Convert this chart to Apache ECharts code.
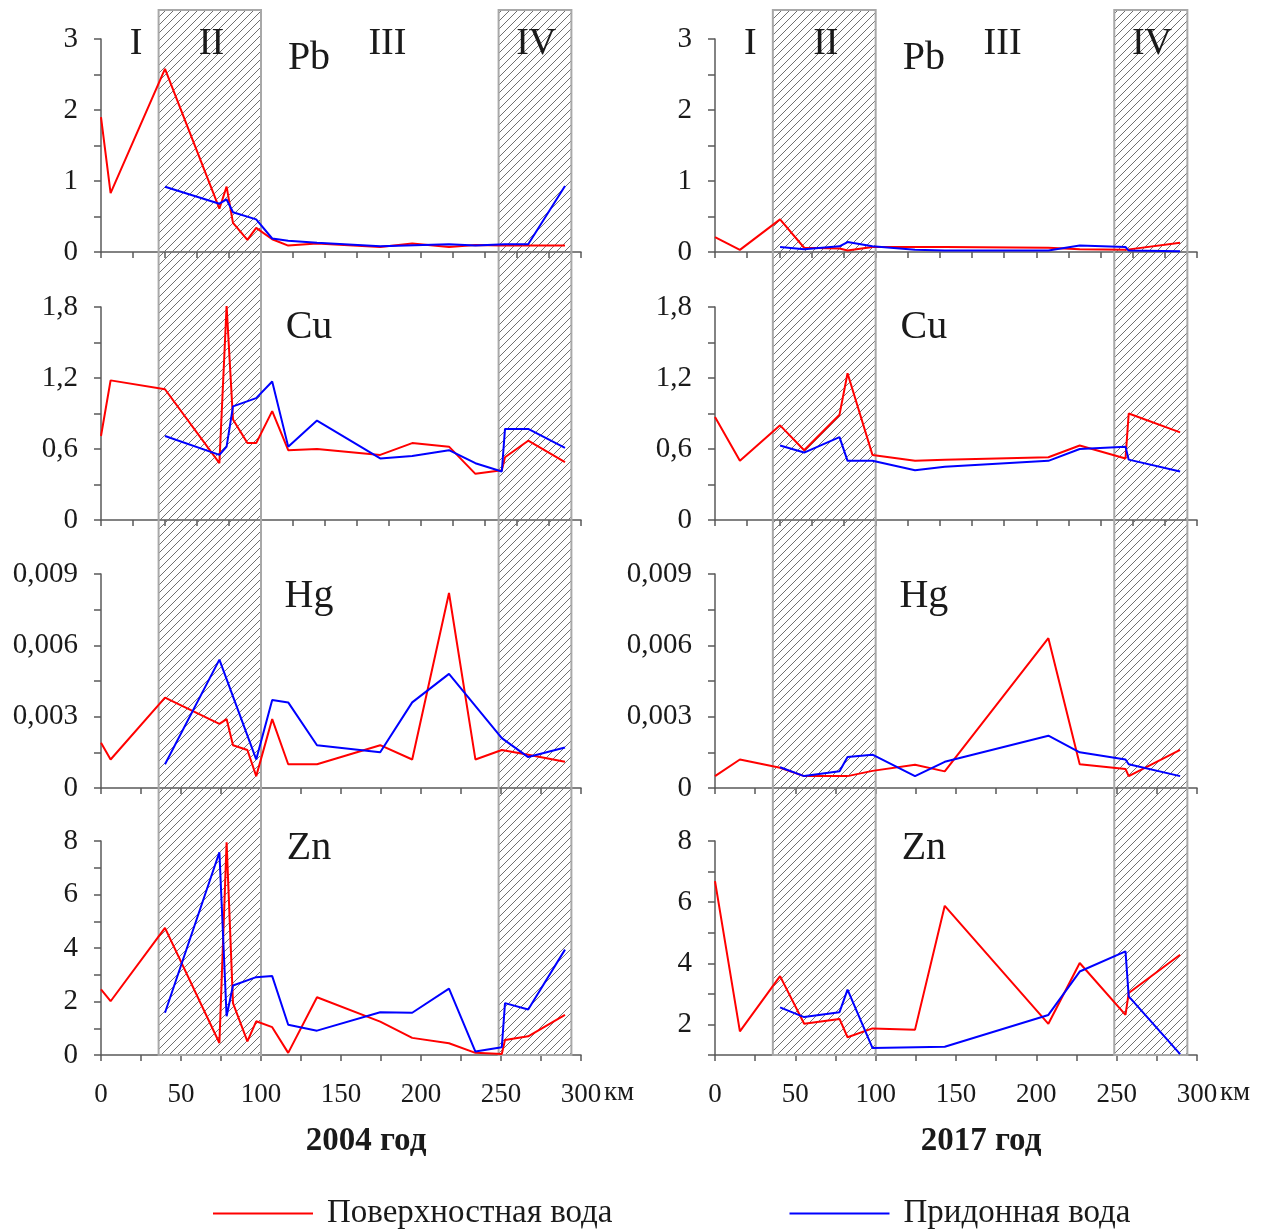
<!DOCTYPE html>
<html>
<head>
<meta charset="utf-8">
<title>Pb, Cu, Hg, Zn — 2004 / 2017</title>
<script src="https://cdn.jsdelivr.net/npm/echarts@6/dist/echarts.min.js"></script>
<style>
  html, body { margin: 0; padding: 0; background: #fff; }
  #chart { width: 1276px; height: 1229px; }
</style>
</head>
<body>
<div id="chart"></div>
<script>
// Sampling stations along the river, km
const stations2004 = [0, 6, 40, 74, 78.5, 82.5, 91.5, 97, 107, 117, 135, 174.5, 194.5, 217.5, 234, 250.5, 252.5, 267, 290];
const stations2017 = [0, 15.5, 40.5, 55.5, 77.5, 82.5, 98, 124.5, 143, 207.5, 227, 255.5, 257.5, 289.5];

// 2004 — surface water (red) and bottom water (blue)
const pbSurface2004 = [1.90, 0.83, 2.58, 0.61, 0.92, 0.41, 0.17, 0.34, 0.18, 0.09, 0.12, 0.07, 0.12, 0.07, 0.10, 0.09, null, null, 0.09];
const pbBottom2004  = [null, null, 0.92, 0.68, 0.74, 0.56, null, 0.46, 0.19, 0.16, 0.13, 0.08, null, 0.11, 0.09, null, 0.11, 0.11, 0.93];
const cuSurface2004 = [0.71, 1.18, 1.105, 0.48, 1.81, 0.85, 0.65, 0.65, 0.92, 0.59, 0.60, 0.55, 0.65, 0.62, 0.39, 0.42, 0.53, 0.67, 0.49];
const cuBottom2004  = [null, null, 0.71, 0.55, 0.62, 0.96, null, 1.03, 1.17, 0.62, 0.84, 0.52, 0.54, 0.59, 0.48, 0.41, 0.77, 0.77, 0.61];
const hgSurface2004 = [0.0019, 0.0012, 0.0038, 0.0027, 0.0029, 0.0018, 0.0016, 0.0005, 0.0029, 0.0010, 0.0010, 0.0018, 0.0012, 0.0082, 0.0012, 0.0016, null, 0.0014, 0.0011];
const hgBottom2004  = [null, null, 0.0010, 0.0054, null, null, null, 0.0012, 0.0037, 0.0036, 0.0018, 0.0015, 0.0036, 0.0048, null, 0.0021, null, 0.0013, 0.0017];
const znSurface2004 = [2.45, 2.01, 4.75, 0.45, 7.95, 1.94, 0.51, 1.26, 1.04, 0.08, 2.16, 1.25, 0.64, 0.44, 0.08, 0.04, 0.56, 0.70, 1.50];
const znBottom2004  = [null, null, 1.58, 7.58, 1.45, 2.60, null, 2.91, 2.95, 1.13, 0.91, 1.60, 1.58, 2.48, 0.13, 0.29, 1.94, 1.70, 3.94];

// 2017 — surface water (red) and bottom water (blue)
const pbSurface2017 = [0.21, 0.03, 0.46, 0.06, 0.05, 0.02, 0.07, 0.07, 0.07, 0.06, 0.04, 0.03, null, 0.13];
const pbBottom2017  = [null, null, 0.07, 0.04, 0.08, 0.14, 0.08, 0.03, 0.02, 0.02, 0.09, 0.07, 0.02, 0.01];
const cuSurface2017 = [0.87, 0.50, 0.80, 0.59, 0.89, 1.24, 0.55, 0.50, 0.51, 0.53, 0.63, 0.52, 0.90, 0.74];
const cuBottom2017  = [null, null, 0.63, 0.57, 0.70, 0.50, 0.50, 0.42, 0.45, 0.50, 0.60, 0.62, 0.51, 0.41];
const hgSurface2017 = [0.0005, 0.0012, 0.00085, 0.0005, 0.0005, 0.0005, 0.00072, 0.00098, 0.0007, 0.0063, 0.0010, 0.0008, 0.0005, 0.0016];
const hgBottom2017  = [null, null, 0.00087, 0.0005, 0.0007, 0.0013, 0.0014, 0.0005, 0.0011, 0.0022, 0.0015, 0.0012, 0.0010, 0.0005];
const znSurface2017 = [6.69, 1.77, 3.58, 2.02, 2.18, 1.58, 1.87, 1.83, 5.88, 2.02, 4.01, 2.31, 3.03, 4.28];
const znBottom2017  = [null, null, 2.56, 2.24, 2.40, 3.14, 1.23, null, 1.27, 2.31, 3.73, 4.39, 2.92, 1.03];

// River zones (km) shown as hatched bands
const zoneII = [36, 100];
const zoneIV = [248.5, 294];
const zoneNames = ['I', 'II', 'III', 'IV'];
const zoneLabelKm = [22, 69, 179, 272];

const elements = ['Pb', 'Cu', 'Hg', 'Zn'];
const years = ['2004 год', '2017 год'];
const seriesNames = ['Поверхностная вода', 'Придонная вода'];

const FONT = 'Liberation Serif';
const RED = '#ff0000';
const BLUE = '#0000ff';
const AXIS = '#5a5a5a';
const TEXT = '#1a1a1a';

// Layout of panels
const colLeft = [101, 715];
const colWidth = [480, 482];
const rowTop = [39, 307, 574, 841];
const rowHeight = [213, 213, 214, 214];

// Per-element y axis set-up
const yAxes = [
  { min: 0, max: 3, interval: 0.5, labelStep: 1 },
  { min: 0, max: 1.8, interval: 0.3, labelStep: 0.6 },
  { min: 0, max: 0.009, interval: 0.0015, labelStep: 0.003 },
  { min: 0, max: 8, interval: 1, labelStep: 2 }
];
const yAxesZn2017 = { min: 1, max: 8, interval: 1, labelStep: 2 };
const xTickStep = [20, 20, 25, 25];

const data = [
  [[pbSurface2004, pbBottom2004], [cuSurface2004, cuBottom2004], [hgSurface2004, hgBottom2004], [znSurface2004, znBottom2004]],
  [[pbSurface2017, pbBottom2017], [cuSurface2017, cuBottom2017], [hgSurface2017, hgBottom2017], [znSurface2017, znBottom2017]]
];
const stations = [stations2004, stations2017];

function onStep(v, step) {
  const k = v / step;
  return Math.abs(k - Math.round(k)) < 1e-6;
}
function fmtNum(v) {
  const r = Math.round(v * 100000) / 100000;
  return String(r).replace('.', ',');
}
function pairs(xs, ys) {
  return xs.map((x, i) => [x, ys[i]]);
}

// Diagonal hatch tile for the zone bands
function hatchTile() {
  const s = 8;
  const c = document.createElement('canvas');
  c.width = s; c.height = s;
  const g = c.getContext('2d');
  g.strokeStyle = '#707070';
  g.lineWidth = 1;
  g.beginPath();
  g.moveTo(0, s); g.lineTo(s, 0);
  g.moveTo(-1, 1); g.lineTo(1, -1);
  g.moveTo(s - 1, s + 1); g.lineTo(s + 1, s - 1);
  g.stroke();
  return c;
}
const hatch = { image: hatchTile(), repeat: 'repeat' };

const grid = [], xAxis = [], yAxis = [], series = [], graphic = [];

for (let col = 0; col < 2; col++) {
  for (let row = 0; row < 4; row++) {
    const gi = grid.length;
    grid.push({ left: colLeft[col], top: rowTop[row], width: colWidth[col], height: rowHeight[row], containLabel: false });
    const isBottom = row === 3;
    xAxis.push({
      gridIndex: gi, type: 'value', min: 0, max: 300, interval: xTickStep[row],
      axisLine: { show: true, onZero: false, lineStyle: { color: AXIS, width: 1.5 } },
      axisTick: { show: true, inside: false, length: 6, lineStyle: { color: AXIS, width: 1.5 } },
      splitLine: { show: false },
      axisLabel: {
        show: isBottom, margin: 26, fontFamily: FONT, fontSize: 27, color: TEXT,
        formatter: v => (onStep(v, 50) ? String(v) : '')
      }
    });
    const ya = (col === 1 && row === 3) ? yAxesZn2017 : yAxes[row];
    yAxis.push({
      gridIndex: gi, type: 'value', min: ya.min, max: ya.max, interval: ya.interval,
      axisLine: { show: true, onZero: false, lineStyle: { color: AXIS, width: 1.5 } },
      axisTick: { show: true, inside: false, length: 7, lineStyle: { color: AXIS, width: 1.5 } },
      splitLine: { show: false },
      axisLabel: {
        margin: 23, fontFamily: FONT, fontSize: 29, color: TEXT,
        formatter: v => (onStep(v, ya.labelStep) ? fmtNum(v) : '')
      }
    });
    const [surf, bott] = data[col][row];
    series.push({
      name: seriesNames[0], type: 'line', xAxisIndex: gi, yAxisIndex: gi, z: 3,
      data: pairs(stations[col], surf), connectNulls: true, showSymbol: false, symbol: 'none',
      lineStyle: { color: RED, width: 2 }, itemStyle: { color: RED }
    });
    series.push({
      name: seriesNames[1], type: 'line', xAxisIndex: gi, yAxisIndex: gi, z: 3,
      data: pairs(stations[col], bott), connectNulls: true, showSymbol: false, symbol: 'none',
      lineStyle: { color: BLUE, width: 2 }, itemStyle: { color: BLUE }
    });
  }
}

// Full-height band layers (one per column), spanning all four panels
for (let col = 0; col < 2; col++) {
  const gi = grid.length;
  grid.push({ left: colLeft[col], top: 10, width: colWidth[col], height: 1045 });
  xAxis.push({ gridIndex: gi, type: 'value', min: 0, max: 300, show: false });
  yAxis.push({ gridIndex: gi, type: 'value', min: 0, max: 1, show: false });
  series.push({
    type: 'line', xAxisIndex: gi, yAxisIndex: gi, data: [], z: 1, silent: true,
    markArea: {
      silent: true,
      itemStyle: { color: hatch, borderColor: '#a8a8a8', borderWidth: 2 },
      data: [
        [{ xAxis: zoneII[0], yAxis: 0 }, { xAxis: zoneII[1], yAxis: 1 }],
        [{ xAxis: zoneIV[0], yAxis: 0 }, { xAxis: zoneIV[1], yAxis: 1 }]
      ]
    }
  });
}

// Texts: zone numerals, element symbols, km unit, year captions
const chart = echarts.init(document.getElementById('chart'), null, { renderer: 'canvas' });

function kmToPx(col, km) {
  return colLeft[col] + km / 300 * colWidth[col];
}
const elementCenterKm = 130;
const elementY = [58, 327, 596, 848];
for (let col = 0; col < 2; col++) {
  zoneNames.forEach((z, i) => {
    graphic.push({
      type: 'text', x: kmToPx(col, zoneLabelKm[i]), y: 44, z: 10,
      style: { text: z, font: `38px "${FONT}"`, fill: TEXT, align: 'center', verticalAlign: 'middle' }
    });
  });
  elements.forEach((el, row) => {
    graphic.push({
      type: 'text', x: kmToPx(col, elementCenterKm), y: elementY[row], z: 10,
      style: { text: el, font: `40px "${FONT}"`, fill: TEXT, align: 'center', verticalAlign: 'middle' }
    });
  });
  graphic.push({
    type: 'text', x: colLeft[col] + colWidth[col] + 23, y: 1093, z: 10,
    style: { text: 'км', font: `27px "${FONT}"`, fill: TEXT, align: 'left', verticalAlign: 'middle' }
  });
  graphic.push({
    type: 'text', x: colLeft[col] + colWidth[col] / 2 + 25, y: 1141, z: 10,
    style: { text: years[col], font: `bold 33px "${FONT}"`, fill: TEXT, align: 'center', verticalAlign: 'middle' }
  });
}

chart.setOption({
  animation: false,
  backgroundColor: '#ffffff',
  grid, xAxis, yAxis, series, graphic,
  legend: {
    left: 208, top: 1192,
    icon: 'rect', itemWidth: 100, itemHeight: 2, itemGap: 177,
    selectedMode: false,
    textStyle: { fontFamily: FONT, fontSize: 33, color: TEXT, padding: [0, 0, 0, 9] },
    data: seriesNames
  }
});
</script>
</body>
</html>
